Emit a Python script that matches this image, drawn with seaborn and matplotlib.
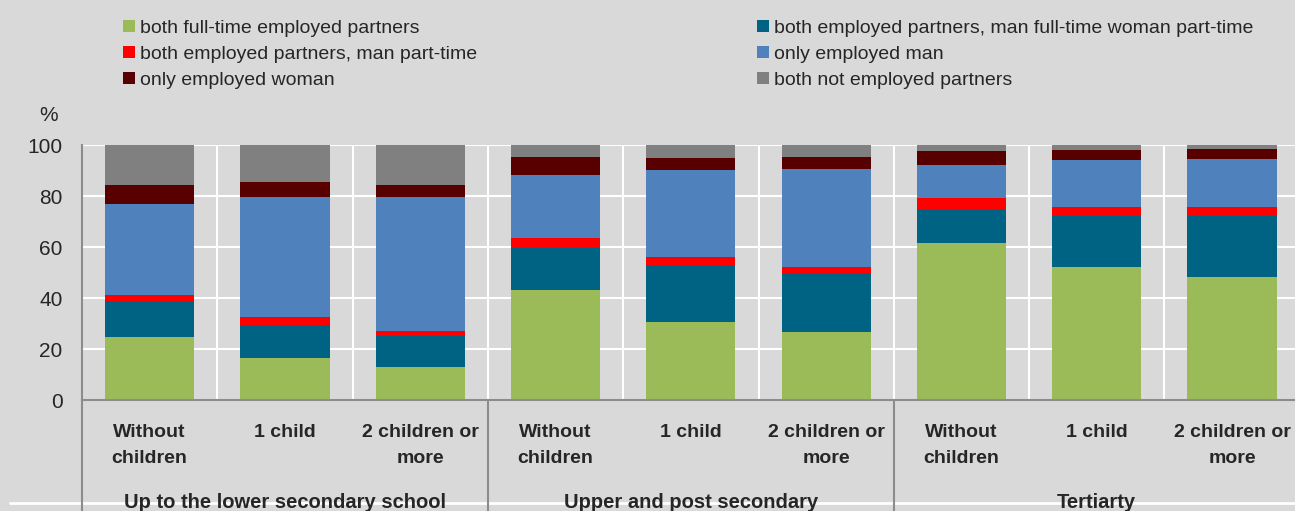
import matplotlib
matplotlib.use("Agg")
import matplotlib.pyplot as plt
from matplotlib.patches import Patch
from matplotlib.lines import Line2D
import seaborn as sns
import numpy as np
import pandas as pd

# 데이터
children = ["Without\nchildren", "1 child", "2 children or\nmore"] * 3
education = ["Up to the lower secondary school", "Upper and post secondary", "Tertiarty"]

both_full = [24.7, 16.3, 12.8, 43.0, 30.7, 26.5, 61.7, 52.2, 48.4]
man_ft_woman_pt = [14.0, 13.2, 12.4, 16.5, 22.4, 23.2, 13.2, 20.1, 23.9]
man_pt = [2.5, 3.2, 2.0, 4.2, 3.1, 2.3, 4.4, 3.4, 3.3]
only_man = [35.8, 46.9, 52.4, 24.5, 33.9, 38.7, 12.7, 18.4, 19.0]
only_woman = [7.2, 6.0, 4.7, 7.1, 4.9, 4.6, 5.5, 4.1, 3.7]
not_employed = [15.8, 14.4, 15.7, 4.7, 5.0, 4.7, 2.5, 1.8, 1.7]

series_names = ["both full-time employed partners",
                "both employed partners, man full-time woman part-time",
                "both employed partners, man part-time",
                "only employed man",
                "only employed woman",
                "both not employed partners"]
colors = ["#9BBB59", "#006383", "#FF0000", "#4F81BD", "#580000", "#808080"]

df = pd.DataFrame({"pos": range(9), "s0": both_full, "s1": man_ft_woman_pt, "s2": man_pt,
                   "s3": only_man, "s4": only_woman, "s5": not_employed})

sns.set_style("white")
plt.rcParams["font.family"] = ["Liberation Sans", "DejaVu Sans"]
bg = "#D9D9D9"
line_gray = "#8C8C8C"

fig = plt.figure(figsize=(12.95, 5.11), dpi=100, facecolor=bg)
ax = fig.add_axes([82 / 1295, 111 / 511, 9 * 135.3 / 1295, 255 / 511])
ax.set_facecolor(bg)

# 누적 막대 (위에서부터 그리기)
cols = ["s0", "s1", "s2", "s3", "s4", "s5"]
for k in range(5, -1, -1):
    cum = df[cols[:k + 1]].sum(axis=1)
    sns.barplot(x=df["pos"], y=cum, color=colors[k], saturation=1, width=0.66,
                errorbar=None, ax=ax, linewidth=0)

ax.set_xlim(-0.5, 8.5)
ax.set_ylim(0, 100)
ax.set_yticks(range(0, 101, 20))
ax.set_xticks(range(9))
ax.set_xticklabels(children, fontsize=14, fontweight="bold", linespacing=1.75)
ax.set_xticks(np.arange(-0.5, 9, 1), minor=True)
ax.tick_params(axis="y", labelsize=15, length=0, pad=14)
ax.tick_params(axis="x", which="both", length=0, pad=17)
ax.set_xlabel("")
ax.set_ylabel("")
ax.set_axisbelow(True)
ax.grid(axis="y", color="white", lw=1.5)
ax.grid(axis="x", which="minor", color="white", lw=1.5)
for s in ["top", "right"]:
    ax.spines[s].set_visible(False)
for s in ["left", "bottom"]:
    ax.spines[s].set_color(line_gray)
    ax.spines[s].set_linewidth(1.5)

# 그룹 구분선과 그룹 이름
for xb in [-0.5, 2.5, 5.5, 8.5]:
    ax.plot([xb, xb], [0, -0.45], color=line_gray, lw=1.5,
            transform=ax.get_xaxis_transform(), clip_on=False)
for i, name in enumerate(education):
    ax.text(3 * i + 1, -0.365, name, transform=ax.get_xaxis_transform(),
            ha="center", va="top", fontsize=14.5, fontweight="bold")

fig.add_artist(Line2D([10 / 1295, 1], [8 / 511, 8 / 511], color="white", lw=2, zorder=0))
fig.text(49 / 1295, 1 - 115 / 511, "%", fontsize=15, ha="center", va="center")

# 범례
handles = [Patch(facecolor=c, edgecolor="none") for c in colors]
leg_kw = dict(frameon=False, fontsize=14, handlelength=0.6, handleheight=0.6,
              handletextpad=0.25, labelspacing=0.46, borderpad=0, borderaxespad=0, loc="upper left")
fig.legend([handles[0], handles[2], handles[4]], [series_names[0], series_names[2], series_names[4]],
           bbox_to_anchor=(123 / 1295, 1 - 20 / 511), **leg_kw)
fig.legend([handles[1], handles[3], handles[5]], [series_names[1], series_names[3], series_names[5]],
           bbox_to_anchor=(757 / 1295, 1 - 20 / 511), **leg_kw)

fig.savefig("out.png", dpi=100, facecolor=bg)
